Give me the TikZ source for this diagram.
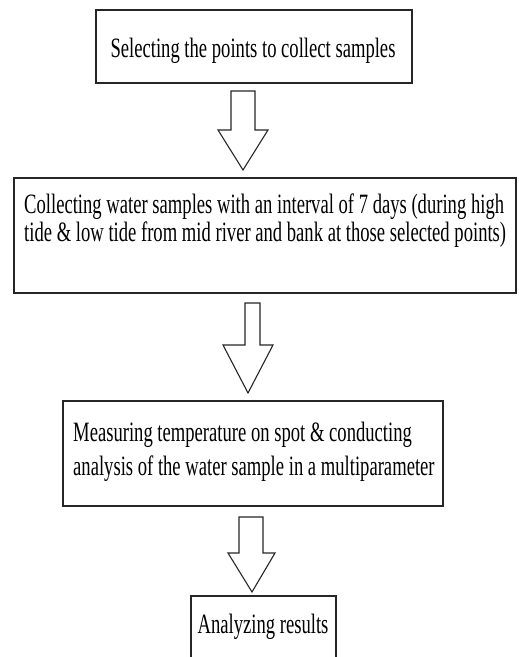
\documentclass[tikz,border=0pt]{standalone}
\usepackage{fontspec}
\setmainfont{Liberation Serif}[FakeStretch=0.665]
\begin{document}
\begin{tikzpicture}[x=1pt,y=-1pt,
  box/.style={draw=black!85,line width=1.3pt,inner sep=0pt,rectangle},
  blockarrow/.style={draw=black!85,line width=1.1pt,line join=miter,fill=white},
  txt/.style={inner sep=0pt,font=\fontsize{28}{34}\selectfont}]
\useasboundingbox (0,0) rectangle (519,657);
\clip (0,0) rectangle (519,657);
% boxes
\node[box,minimum width=316pt,minimum height=73pt] (b1) at (254,46.5) {};
\node[box,minimum width=502pt,minimum height=115pt] (b2) at (265,235.5) {};
\node[box,minimum width=380pt,minimum height=105pt] (b3) at (253,453.5) {};
\node[box,minimum width=145pt,minimum height=90pt] (b4) at (263.5,641) {};
% texts
\node[txt,anchor=base] (t1) at (253,57) {Selecting the points to collect samples};
\node[txt,anchor=base west] (t2a) at (24,213) {Collecting water samples with an interval of 7 days (during high};
\node[txt,anchor=base west] (t2b) at (24,241) {tide \& low tide from mid river and bank at those selected points)};
\node[txt,anchor=base west] (t3a) at (73,441) {Measuring temperature on spot \& conducting};
\node[txt,anchor=base west] (t3b) at (73,475) {analysis of the water sample in a multiparameter};
\node[txt,anchor=base] (t4) at (263,633) {Analyzing results};
% block arrows
\draw[blockarrow] (231,91) -- (255,91) -- (255,130) -- (268,130) -- (243,170) -- (218,130) -- (231,130) -- cycle;
\draw[blockarrow] (245,303) -- (260,303) -- (260,345) -- (273,345) -- (248,393) -- (223,345) -- (245,345) -- cycle;
\draw[blockarrow] (239,517) -- (263,517) -- (263,553) -- (275,553) -- (252,592) -- (228,553) -- (239,553) -- cycle;
\end{tikzpicture}
\end{document}
